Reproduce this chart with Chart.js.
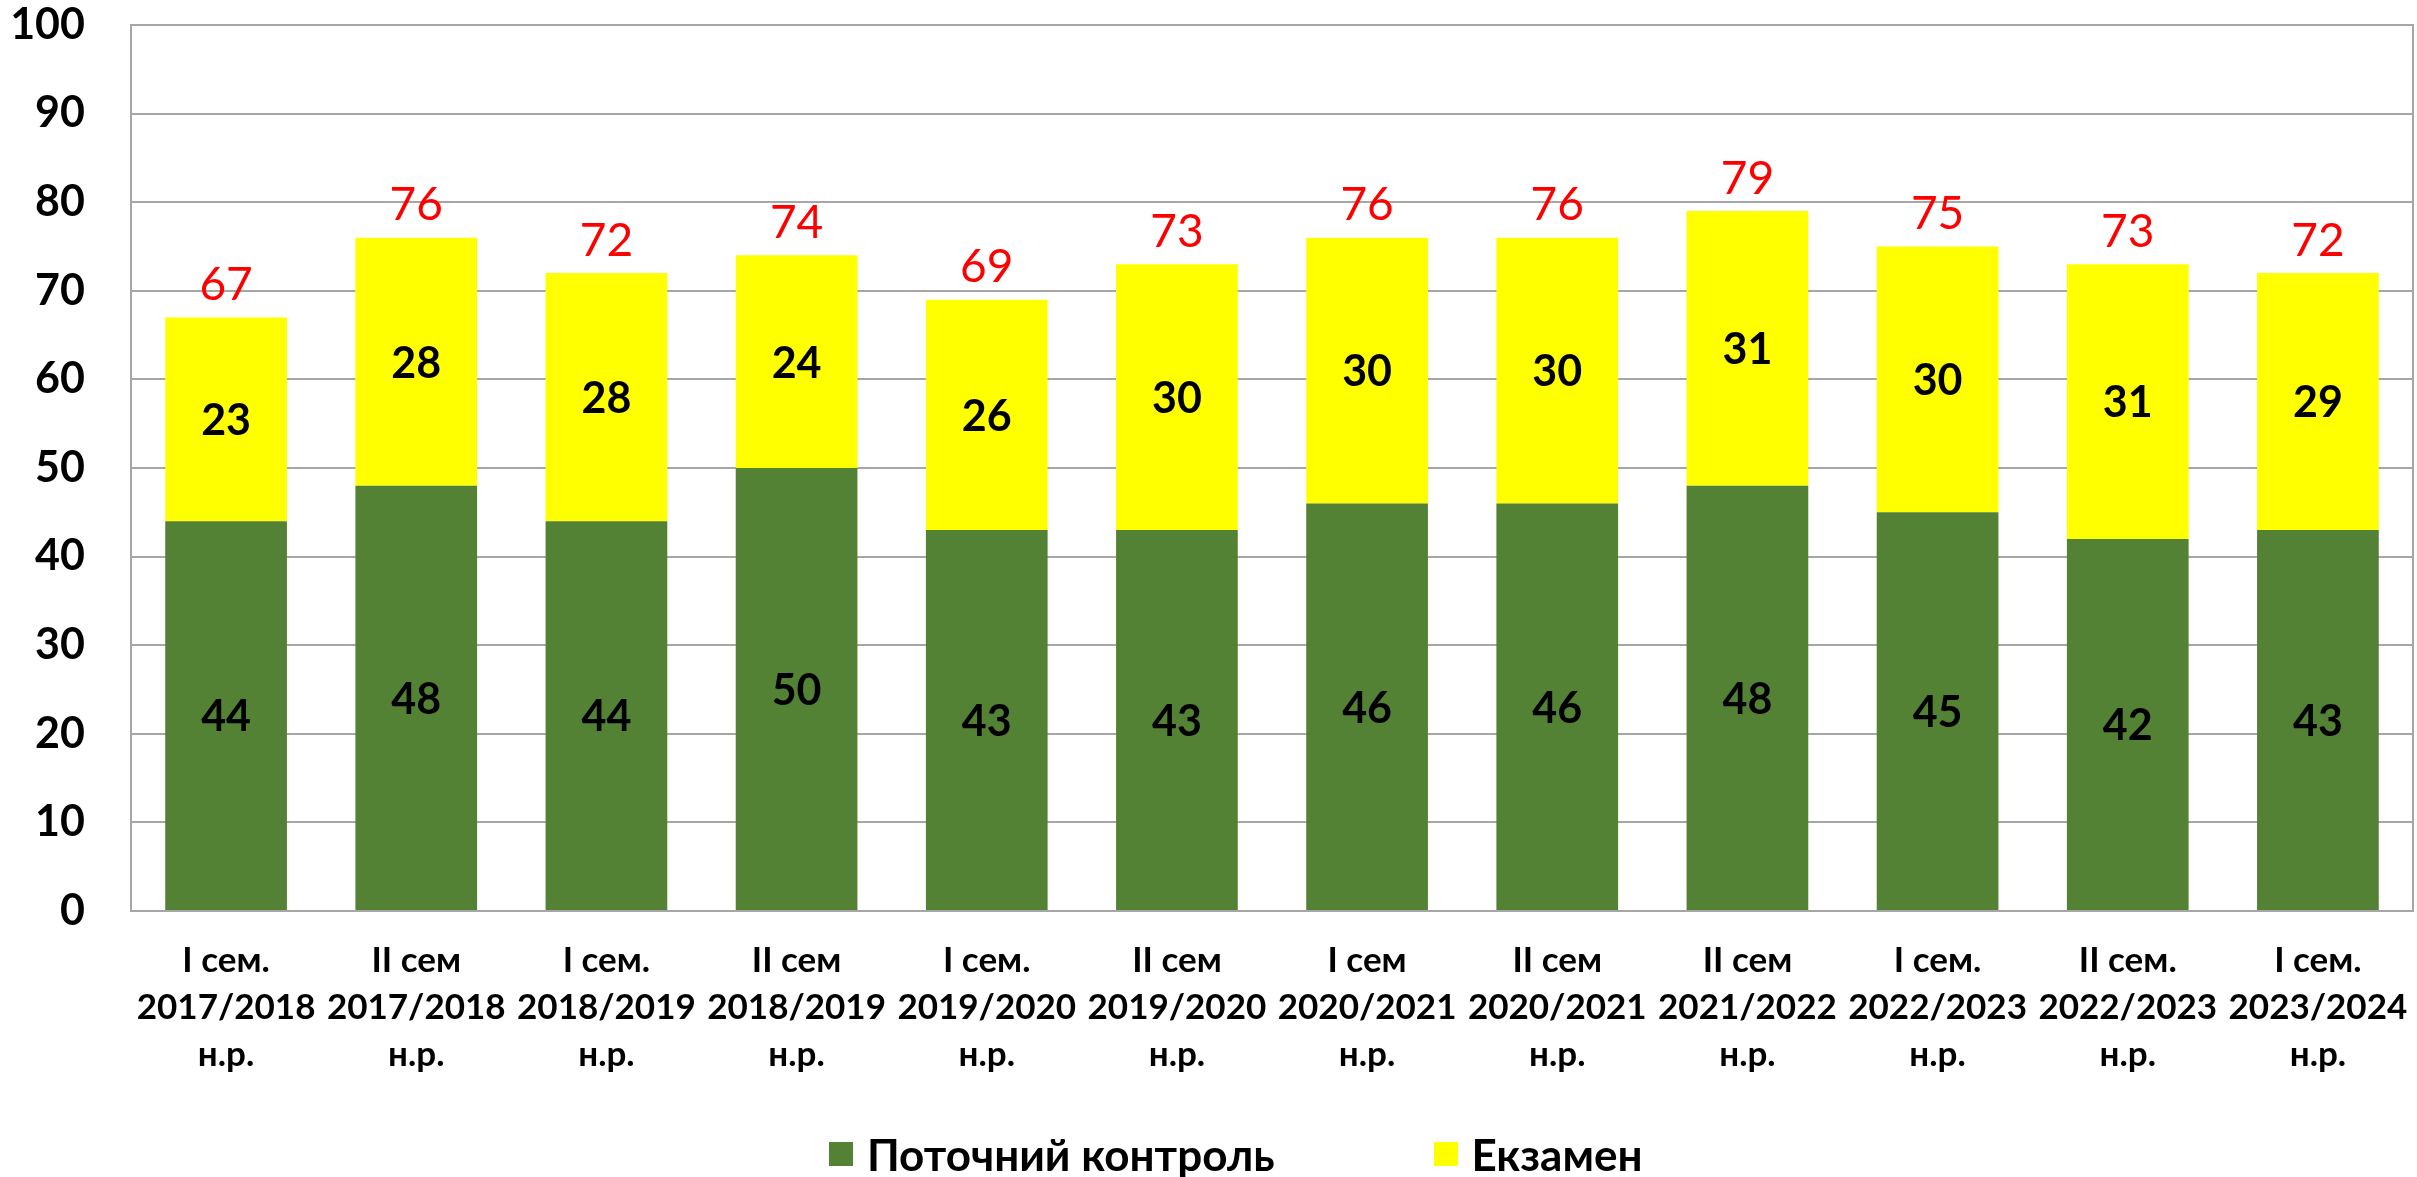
<!DOCTYPE html>
<html>
<head>
<meta charset="utf-8">
<script src="https://cdn.jsdelivr.net/npm/chart.js@4.4.1/dist/chart.umd.min.js"></script>
<style>
  html, body { margin: 0; padding: 0; background: #fff; }
  #wrap { position: relative; width: 2417px; height: 1177px; }
  #legend { position: absolute; top: 1130px; left: 829px; display: flex; align-items: center;
            font: bold 44px Lato, sans-serif; color: #000; line-height: 48px; }
  .item { display: flex; align-items: center; }
  .box { width: 24px; height: 24px; margin-right: 14px; }
</style>
</head>
<body>
<div id="wrap">
  <canvas id="chart" width="2417" height="1177"></canvas>
  <div id="legend"></div>
</div>
<script>
var semesters = [
  ['I сем.', '2017/2018', 'н.р.'],
  ['II сем', '2017/2018', 'н.р.'],
  ['I сем.', '2018/2019', 'н.р.'],
  ['II сем', '2018/2019', 'н.р.'],
  ['I сем.', '2019/2020', 'н.р.'],
  ['II сем', '2019/2020', 'н.р.'],
  ['I сем', '2020/2021', 'н.р.'],
  ['II сем', '2020/2021', 'н.р.'],
  ['II сем', '2021/2022', 'н.р.'],
  ['I сем.', '2022/2023', 'н.р.'],
  ['II сем.', '2022/2023', 'н.р.'],
  ['I сем.', '2023/2024', 'н.р.']
];
var currentControl = [44, 48, 44, 50, 43, 43, 46, 46, 48, 45, 42, 43];
var exam = [23, 28, 28, 24, 26, 30, 30, 30, 31, 30, 31, 29];
var totals = [67, 76, 72, 74, 69, 73, 76, 76, 79, 75, 73, 72];
var yTicks = [0, 10, 20, 30, 40, 50, 60, 70, 80, 90, 100];

var green = '#548235';
var yellow = '#FFFF00';
var gridGray = '#A6A6A6';

// labels inside the segments and the red totals above
var labelsPlugin = {
  id: 'barLabels',
  afterDatasetsDraw: function(chart) {
    var ctx = chart.ctx;
    var y = chart.scales.y;
    ctx.save();
    ctx.textAlign = 'center';
    ctx.textBaseline = 'middle';
    ctx.fillStyle = '#000';
    ctx.font = 'bold 43px Lato, sans-serif';
    chart.data.datasets.forEach(function(ds, di) {
      var meta = chart.getDatasetMeta(di);
      meta.data.forEach(function(bar, i) {
        ctx.fillText(ds.data[i], bar.x, (bar.y + bar.base) / 2 + 2);
      });
    });
    ctx.fillStyle = '#FF0000';
    ctx.font = '46px Lato, sans-serif';
    var top = chart.getDatasetMeta(1);
    top.data.forEach(function(bar, i) {
      ctx.fillText(totals[i], bar.x, y.getPixelForValue(totals[i]) - 32);
    });
    ctx.restore();
  }
};

var borderPlugin = {
  id: 'plotBorder',
  beforeDatasetsDraw: function(chart) {
    var a = chart.chartArea;
    var ctx = chart.ctx;
    ctx.save();
    ctx.strokeStyle = gridGray;
    ctx.lineWidth = 2;
    ctx.beginPath();
    ctx.moveTo(a.left, a.top);
    ctx.lineTo(a.right, a.top);
    ctx.lineTo(a.right, a.bottom);
    ctx.stroke();
    ctx.restore();
  }
};

var ctx = document.getElementById('chart');
var chart = new Chart(ctx, {
  type: 'bar',
  data: {
    labels: semesters,
    datasets: [
      { label: 'Поточний контроль', data: currentControl, backgroundColor: green },
      { label: 'Екзамен', data: exam, backgroundColor: yellow }
    ]
  },
  options: {
    responsive: false,
    animation: false,
    layout: { padding: { top: 25, right: 4, bottom: 80, left: 0 } },
    datasets: { bar: { barPercentage: 0.64, categoryPercentage: 1 } },
    plugins: { legend: { display: false }, tooltip: { enabled: false } },
    scales: {
      x: {
        stacked: true,
        grid: { display: false },
        border: { color: gridGray, width: 2 },
        ticks: {
          color: '#000',
          font: { family: 'Lato', weight: 'bold', size: 35, lineHeight: 1.34 },
          padding: 18,
          maxRotation: 0,
          autoSkip: false
        },
        afterFit: function(s) { s.height = 186; s.paddingLeft = 0; s.paddingRight = 0; }
      },
      y: {
        stacked: true,
        min: 0,
        max: 100,
        afterBuildTicks: function(s) { s.ticks = yTicks.map(function(v) { return { value: v }; }); },
        grid: { color: gridGray, lineWidth: 2, drawTicks: false },
        border: { color: gridGray, width: 2 },
        ticks: {
          color: '#000',
          font: { family: 'Lato', weight: 'bold', size: 43 },
          padding: 46
        },
        afterFit: function(s) { s.width = 131; s.paddingTop = 0; s.paddingBottom = 0; }
      }
    }
  },
  plugins: [borderPlugin, labelsPlugin]
});

// legend as html, spaced like the original
var legend = document.getElementById('legend');
chart.data.datasets.forEach(function(ds, i) {
  var item = document.createElement('div');
  item.className = 'item';
  if (i > 0) item.style.marginLeft = '159px';
  var box = document.createElement('div');
  box.className = 'box';
  box.style.background = ds.backgroundColor;
  var txt = document.createElement('span');
  txt.textContent = ds.label;
  item.appendChild(box);
  item.appendChild(txt);
  legend.appendChild(item);
});
</script>
</body>
</html>
